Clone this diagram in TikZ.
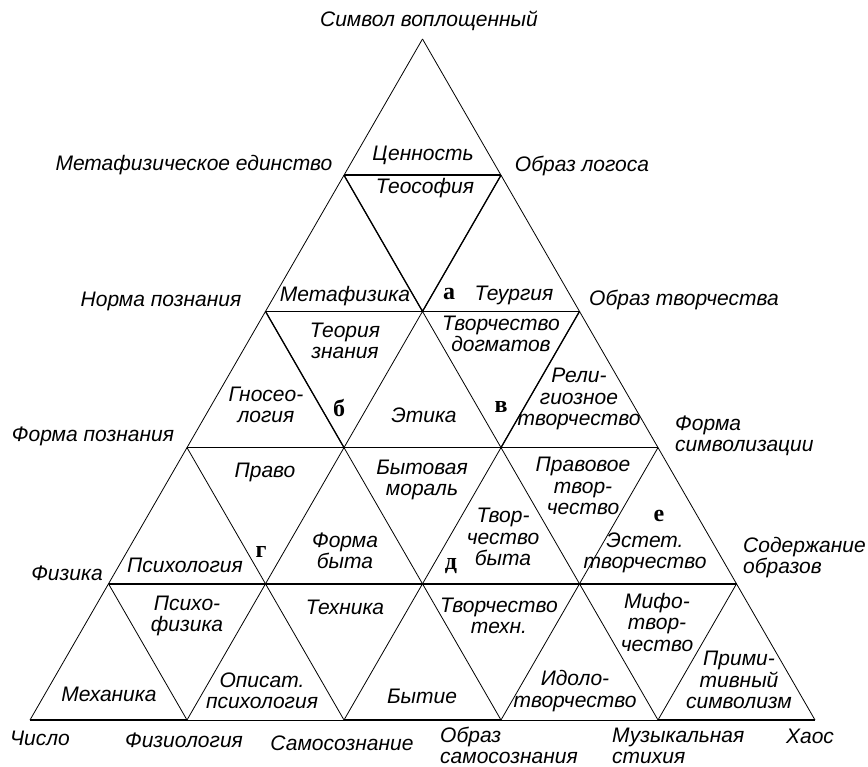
\documentclass[tikz,border=0pt]{standalone}
\usepackage{fontspec}
\setmainfont{Liberation Sans}
\newfontfamily\serifb{Liberation Serif}
\begin{document}
\begin{tikzpicture}[x=1pt,y=-1pt,
  thinline/.style={line width=0.8pt},
  medline/.style={line width=1.3pt},
  hline/.style={line width=1.7pt},
  lbl/.style={font=\itshape\fontsize{21}{21.5}\selectfont, align=center, inner sep=0pt},
  lblw/.style={font=\itshape\fontsize{21}{21}\selectfont, align=left, inner sep=0pt, anchor=west},
  lett/.style={font=\serifb\bfseries\fontsize{24}{24}\selectfont, inner sep=0pt}]
\useasboundingbox (0,0) rectangle (868,767);
\foreach \k in {0,...,5}{
  \foreach \j in {0,...,\k}{
    \coordinate (v\k\j) at ({422.5-78.5*\k+157*\j},{39+136.2*\k});
  }
}
% outer edges
\draw[thinline] (v00) -- (v50);
\draw[thinline] (v00) -- (v55);
% internal diagonals
\foreach \k in {1,...,4}{
  \pgfmathtruncatemacro{\kn}{\k+1}
  \pgfmathtruncatemacro{\km}{\k-1}
  \foreach \j in {0,...,\km}{
    \pgfmathtruncatemacro{\jn}{\j+1}
    \draw[thinline] (v\k\j) -- (v\kn\jn);
  }
  \foreach \j in {1,...,\k}{
    \draw[thinline] (v\k\j) -- (v\kn\j);
  }
}
% medium diagonals
\draw[medline] (v10) -- (v21) -- (v11);
\draw[medline] (v20) -- (v31);
\draw[medline] (v22) -- (v32);
% horizontals
\draw[hline] (v10) -- (v11);
\draw[hline] (v20) -- (v22);
\draw[hline] (v30) -- (v31);
\draw[thinline] (v31) -- (v32);
\draw[hline] (v32) -- (v33);
\draw[hline] (v40) -- (v44);
\draw[hline] (v50) -- (v51);
\draw[thinline] (v51) -- (v52);
\draw[hline] (v52) -- (v53);
\draw[thinline] (v53) -- (v54);
\draw[hline] (v54) -- (v55);
% outer labels
\node[lbl] (o1) at (429,21) {Символ воплощенный};
\node[lbl] (o2) at (194,165) {Метафизическое единство};
\node[lbl] (o3) at (582,166) {Образ логоса};
\node[lbl] (o4) at (161,301) {Норма познания};
\node[lbl] (o5) at (684,300) {Образ творчества};
\node[lbl] (o6) at (93,436) {Форма познания};
\node[lblw] (o7) at (675,436) {Форма\\символизации};
\node[lbl] (o8) at (67,573) {Физика};
\node[lblw] (o9) at (743,558) {Содержание\\образов};
\node[lbl] (o10) at (40,738) {Число};
\node[lbl] (o11) at (184,740) {Физиология};
\node[lbl] (o12) at (342,743) {Самосознание};
\node[lblw] (o13) at (440,745) {Образ\\самосознания};
\node[lblw] (o14) at (612,746) {Музыкальная\\стихия};
\node[lbl] (o15) at (810,736) {Хаос};
% cell labels
\node[lbl] (c1) at (423,155) {Ценность};
\node[lbl] (c2) at (425,188) {Теософия};
\node[lbl] (c3) at (345,296) {Метафизика};
\node[lbl] (c4) at (514,295) {Теургия};
\node[lbl] (c5) at (345,341) {Теория\\знания};
\node[lbl] (c6) at (501,334) {Творчество\\догматов};
\node[lbl] (c7) at (266,405) {Гносео-\\логия};
\node[lbl] (c8) at (424,415) {Этика};
\node[lbl] (c9) at (579,399) {Рели-\\гиозное\\творчество};
\node[lbl] (c10) at (265,472) {Право};
\node[lbl] (c11) at (422,480) {Бытовая\\мораль};
\node[lbl] (c12) at (583,486) {Правовое\\твор-\\чество};
\node[lbl] (c13) at (185,565) {Психология};
\node[lbl] (c14) at (345,551) {Форма\\быта};
\node[lbl] (c15) at (503,537) {Твор-\\чество\\быта};
\node[lbl] (c16) at (645,553) {Эстет.\\творчество};
\node[lbl] (c17) at (187,616) {Психо-\\физика};
\node[lbl] (c18) at (345,607) {Техника};
\node[lbl] (c19) at (499,616) {Творчество\\техн.};
\node[lbl] (c20) at (657,622) {Мифо-\\твор-\\чество};
\node[lbl] (c21) at (109,694) {Механика};
\node[lbl] (c22) at (262,691) {Описат.\\психология};
\node[lbl] (c23) at (422,696) {Бытие};
\node[lbl] (c24) at (575,691) {Идоло-\\творчество};
\node[lbl] (c25) at (739,680) {Прими-\\тивный\\символизм};
% letters
\node[lett] (la) at (449,294) {а};
\node[lett] (lb) at (339,408) {б};
\node[lett] (lv) at (501,407) {в};
\node[lett] (lg) at (261,552) {г};
\node[lett] (ld) at (451,566) {д};
\node[lett] (le) at (659,516) {е};
\end{tikzpicture}
\end{document}
